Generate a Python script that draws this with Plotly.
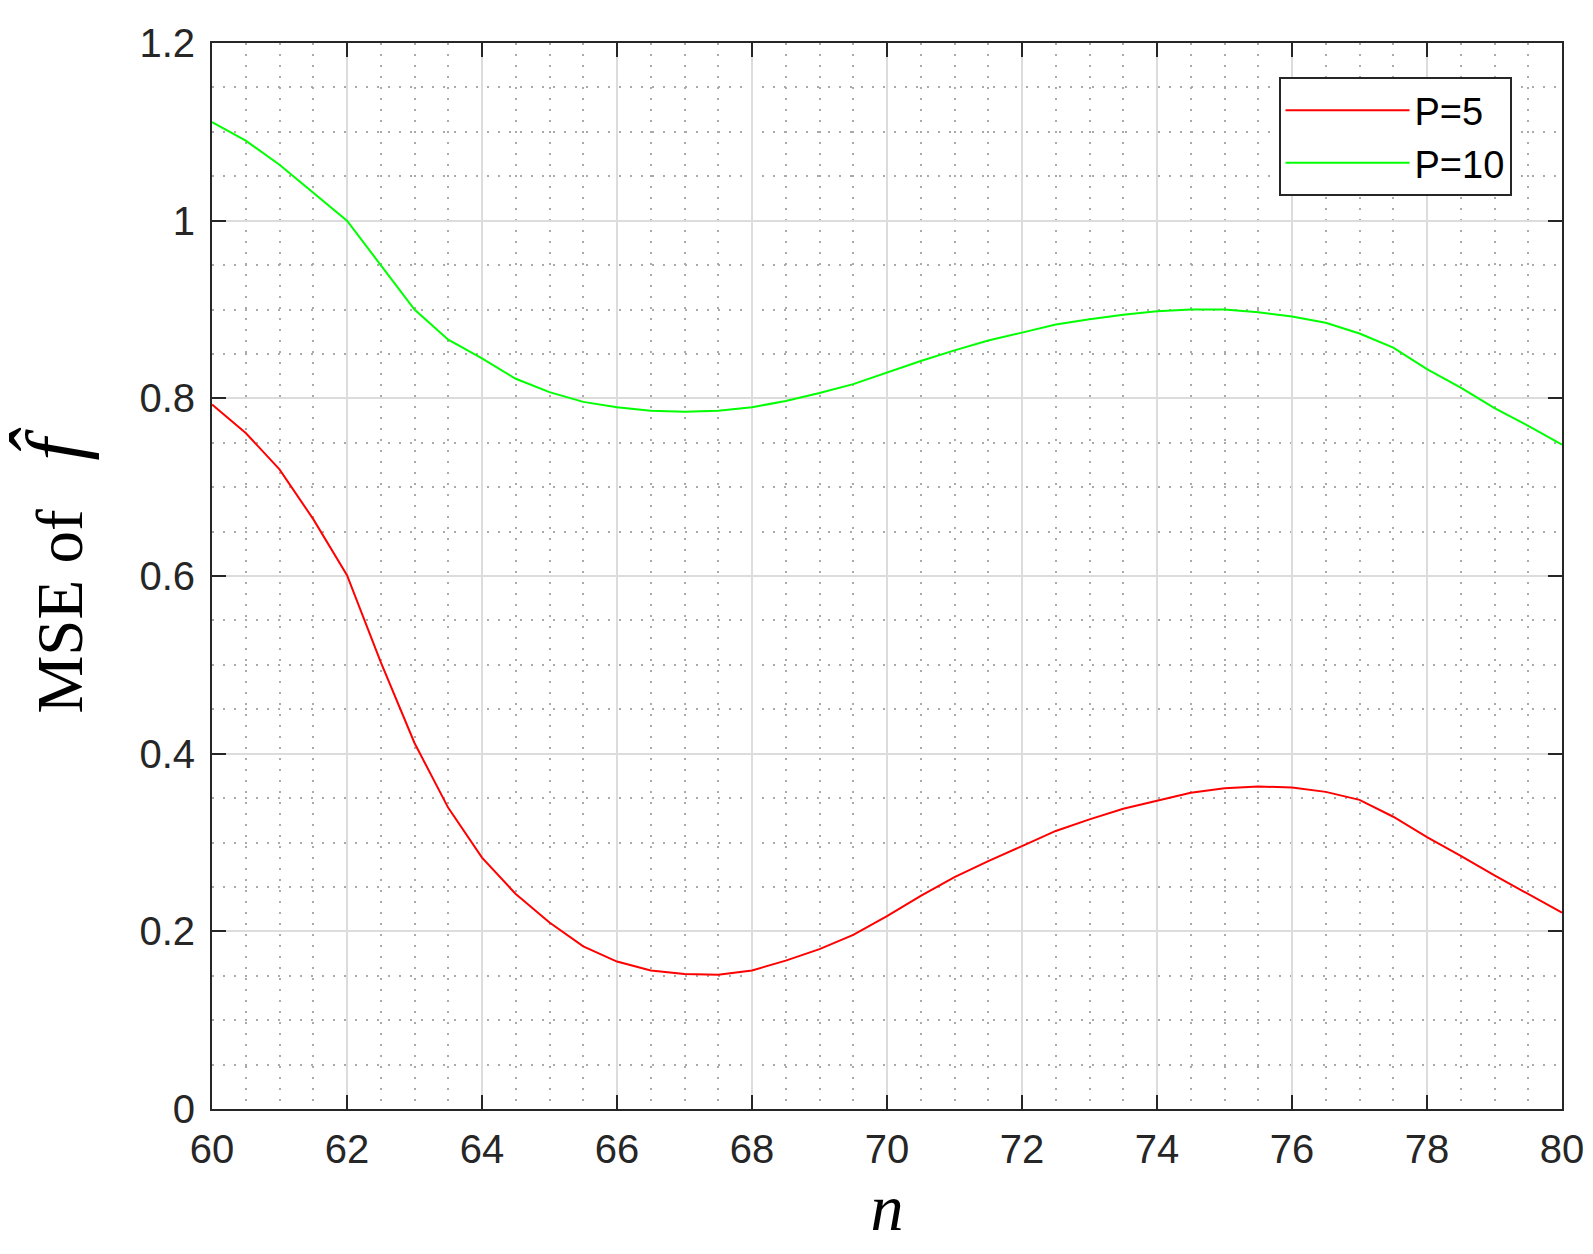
import plotly.graph_objects as go

# sample points n (step 0.5)
n_vals = [60 + 0.5 * i for i in range(41)]

# MSE for P=5 (red)
mse_p5 = [
    0.793, 0.761, 0.720, 0.664, 0.601, 0.503, 0.412, 0.339, 0.283, 0.242,
    0.210, 0.183, 0.166, 0.156, 0.152, 0.151, 0.156, 0.167, 0.180, 0.196,
    0.217, 0.240, 0.261, 0.279, 0.296, 0.313, 0.326, 0.338, 0.347, 0.356,
    0.361, 0.363, 0.362, 0.357, 0.348, 0.329, 0.306, 0.285, 0.263, 0.242,
    0.221,
]

# MSE for P=10 (green)
mse_p10 = [
    1.111, 1.090, 1.063, 1.031, 1.000, 0.950, 0.900, 0.866, 0.845, 0.822,
    0.807, 0.796, 0.790, 0.786, 0.785, 0.786, 0.790, 0.797, 0.806, 0.816,
    0.829, 0.842, 0.854, 0.865, 0.874, 0.883, 0.889, 0.894, 0.898, 0.900,
    0.900, 0.897, 0.892, 0.885, 0.873, 0.857, 0.833, 0.812, 0.789, 0.769,
    0.748,
]

series_names = ["P=5", "P=10"]
series_colors = ["#ff0000", "#00ff00"]

x_ticks = list(range(60, 81, 2))
y_ticks = [0, 0.2, 0.4, 0.6, 0.8, 1.0, 1.2]
y_tick_text = ["0", "0.2", "0.4", "0.6", "0.8", "1", "1.2"]

axis_col = "#262626"
tick_font = dict(family="Liberation Sans, Arial", size=40, color=axis_col)
serif = "Liberation Serif, Times New Roman"

fig = go.Figure()
for name, col, vals in zip(series_names, series_colors, [mse_p5, mse_p10]):
    fig.add_trace(go.Scatter(
        x=n_vals, y=vals, mode="lines", name=name,
        line=dict(color=col, width=2),
    ))

common_axis = dict(
    showline=True, linecolor=axis_col, linewidth=2, mirror="ticks",
    ticks="inside", ticklen=14, tickwidth=2, tickcolor=axis_col,
    tickfont=tick_font,
    showgrid=True, gridcolor="#dcdcdc", gridwidth=2,
    zeroline=False,
)

fig.update_xaxes(
    range=[60, 80], tickvals=x_ticks, ticklabelstandoff=4,
    minor=dict(dtick=0.5, showgrid=True, gridcolor="#aaaaaa",
               griddash="2px,9px", gridwidth=1.5, ticks=""),
    title=dict(text="<i>n</i>", standoff=12,
               font=dict(family=serif, size=66, color="black")),
    **common_axis,
)
fig.update_yaxes(
    range=[0, 1.2], tickvals=y_ticks, ticktext=y_tick_text, ticklabelstandoff=7,
    minor=dict(dtick=0.05, showgrid=True, gridcolor="#aaaaaa",
               griddash="2px,9px", gridwidth=1.5, ticks=""),
    title=dict(text="MSE of   <span style='font-size:80px'><i>f\u0302</i></span>",
               standoff=36,
               font=dict(family=serif, size=65, color="black")),
    **common_axis,
)

fig.update_layout(
    width=1593, height=1254,
    margin=dict(l=204, r=39, t=35, b=153),
    paper_bgcolor="white", plot_bgcolor="white",
    showlegend=True,
    legend=dict(
        x=0.79, y=0.968, xanchor="left", yanchor="top",
        bgcolor="white", bordercolor=axis_col, borderwidth=2,
        font=dict(family="Liberation Sans, Arial", size=38, color="black"),
        tracegroupgap=0, itemwidth=124,
    ),
)

fig.write_html("out.html")
